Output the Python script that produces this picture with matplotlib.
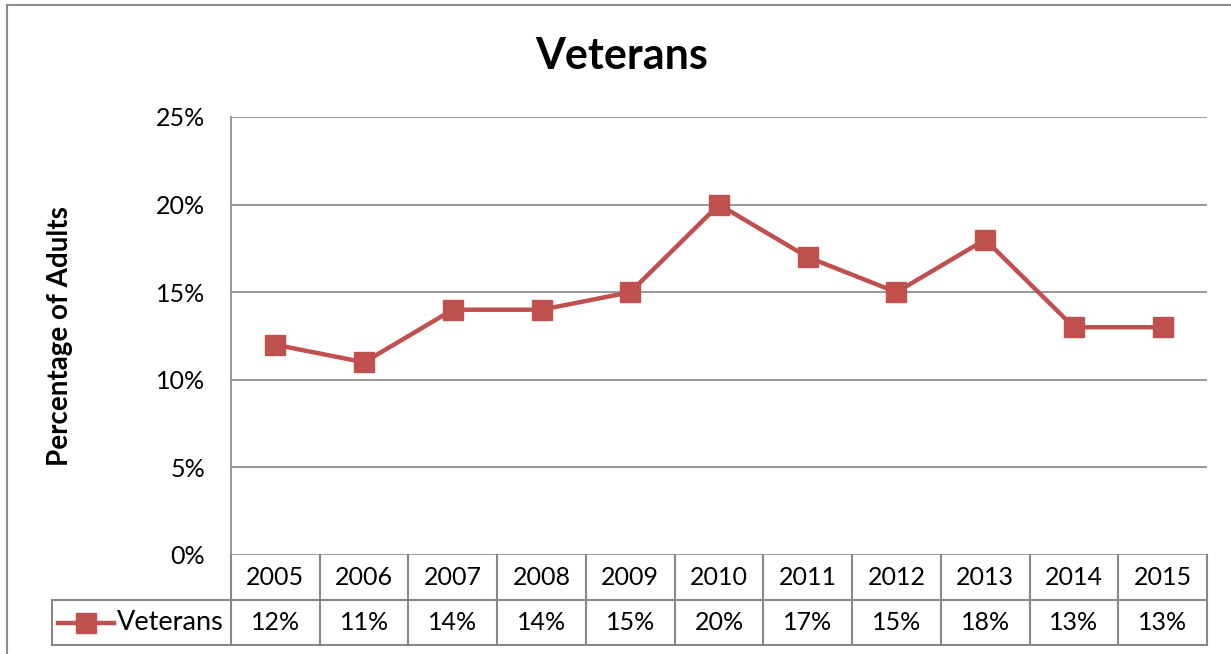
import numpy as np
import matplotlib
matplotlib.use('Agg')
import matplotlib.pyplot as plt

# chart data
years = ['2005', '2006', '2007', '2008', '2009', '2010', '2011', '2012', '2013', '2014', '2015']
veterans = [12, 11, 14, 14, 15, 20, 17, 15, 18, 13, 13]
yticks = [0, 5, 10, 15, 20, 25]

plt.rcParams['font.family'] = ['Lato', 'DejaVu Sans']
red = '#C0504D'
grid_c = '#888888'
fs = 18

W, H = 1231, 654
fig = plt.figure(figsize=(W / 100, H / 100), dpi=100)


def fx(px):
    return px / W


def fy(py):
    return 1 - py / H


# outer chart frame (runs off the right and bottom edges)
fig.add_artist(plt.Line2D([fx(7), fx(7)], [fy(5), 0], color='#8c8c8c', lw=1.5))
fig.add_artist(plt.Line2D([fx(7), 1], [fy(5), fy(5)], color='#8c8c8c', lw=1.5))

left, right, top, bottom = 231, 1207, 117, 555
ax = fig.add_axes([fx(left), fy(bottom), fx(right - left), (bottom - top) / H])
x = np.arange(len(years))
ax.plot(x, veterans, color=red, lw=3.2, marker='s', ms=14.5, zorder=3)
ax.set_xlim(-0.5, len(years) - 0.5)
ax.set_ylim(0, 25)
ax.set_yticks(yticks)
ax.set_yticklabels([f'{t}%' for t in yticks], fontsize=fs)
ax.set_xticks([])
ax.tick_params(axis='y', length=0, pad=18.5)
ax.grid(axis='y', color=grid_c, lw=1.2)
for s in ['top', 'right', 'bottom']:
    ax.spines[s].set_visible(False)
ax.spines['left'].set_color(grid_c)
ax.spines['left'].set_linewidth(1.2)
ax.set_ylabel('Percentage of Adults', fontsize=20, fontweight='bold')
ax.yaxis.set_label_coords((60 - left) / (right - left), 0.5)
ax.yaxis.label.set_va('center')

fig.text(fx(622), fy(56), 'Veterans', fontsize=31, fontweight='bold', ha='center', va='center')

# data table below the plot
tab_bottom = 645
tb = fig.add_axes([fx(left), fy(tab_bottom), fx(right - left), (tab_bottom - bottom) / H])
tb.set_xlim(-0.5, len(years) - 0.5)
tb.set_ylim(0, 2)
tb.axis('off')
col_w = (right - left) / len(years)
leg_left = -0.5 - (left - 52) / col_w
kw = dict(color=grid_c, lw=1.5, clip_on=False)
for i in range(len(years) + 1):
    tb.plot([i - 0.5, i - 0.5], [0, 2], **kw)
tb.plot([leg_left, len(years) - 0.5], [1, 1], **kw)
tb.plot([leg_left, len(years) - 0.5], [0, 0], **kw)
tb.plot([leg_left, leg_left], [0, 1], **kw)
for i, (yr, v) in enumerate(zip(years, veterans)):
    tb.text(i, 1.5, yr, ha='center', va='center', fontsize=fs)
    tb.text(i, 0.5, f'{v}%', ha='center', va='center', fontsize=fs)
# legend key inside the first cell
kx0 = leg_left + 6 / col_w
kx1 = leg_left + 62 / col_w
tb.plot([kx0, kx1], [0.5, 0.5], color=red, lw=3.2, clip_on=False)
tb.plot([(kx0 + kx1) / 2], [0.5], color=red, marker='s', ms=14.5, clip_on=False)
tb.text(kx1 + 3 / col_w, 0.5, 'Veterans', ha='left', va='center', fontsize=19.5)

fig.savefig('out.png', dpi=100)
